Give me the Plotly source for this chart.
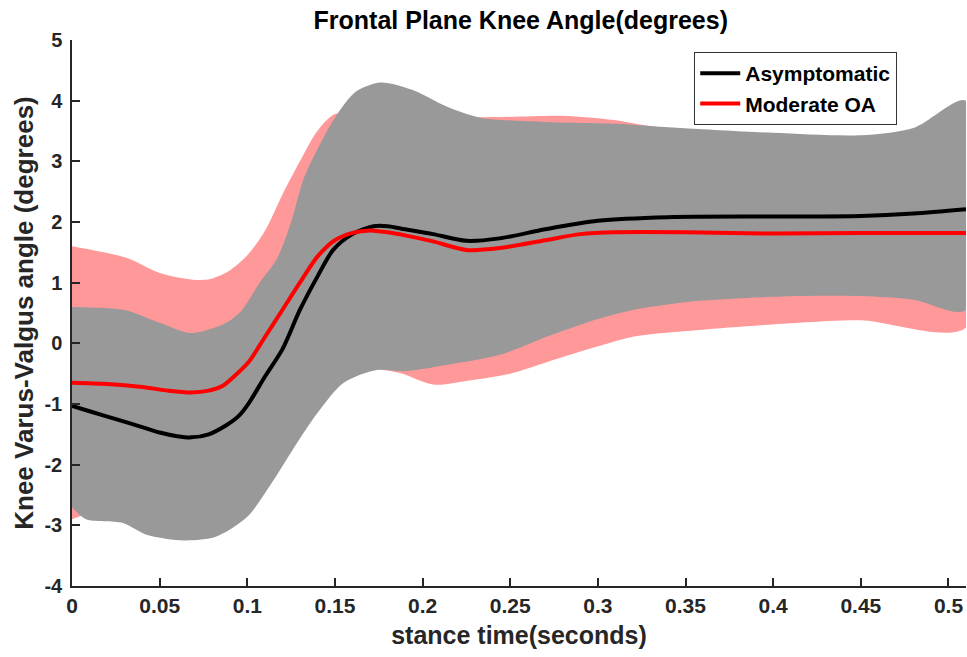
import plotly.graph_objects as go

# Stance-time samples (seconds) and curves, degrees
asym_mean_t = [0, 0.01, 0.025, 0.04, 0.05, 0.06, 0.068, 0.078, 0.088, 0.095, 0.101, 0.11,
               0.12, 0.13, 0.14, 0.149, 0.16, 0.172, 0.18, 0.19, 0.206, 0.225, 0.244,
               0.27, 0.3, 0.34, 0.4, 0.45, 0.48, 0.51]
asym_mean = [-1.03, -1.12, -1.25, -1.38, -1.47, -1.53, -1.55, -1.5, -1.35, -1.2, -0.98, -0.55,
             -0.1, 0.55, 1.1, 1.54, 1.8, 1.93, 1.93, 1.88, 1.8, 1.69, 1.73,
             1.88, 2.02, 2.08, 2.09, 2.1, 2.14, 2.21]

oa_mean_t = [0, 0.02, 0.04, 0.055, 0.068, 0.078, 0.086, 0.096, 0.101, 0.11, 0.12, 0.13,
             0.14, 0.15, 0.16, 0.17, 0.18, 0.19, 0.206, 0.225, 0.244, 0.27, 0.29, 0.31,
             0.35, 0.4, 0.45, 0.51]
oa_mean = [-0.65, -0.67, -0.72, -0.78, -0.81, -0.78, -0.7, -0.45, -0.3, 0.1, 0.55, 1.0,
           1.43, 1.7, 1.82, 1.86, 1.83, 1.78, 1.68, 1.54, 1.57, 1.7, 1.8, 1.83,
           1.83, 1.81, 1.82, 1.82]

# Asymptomatic band (upper / lower)
asym_up_t = [0, 0.03, 0.05, 0.068, 0.088, 0.097, 0.107, 0.117, 0.125, 0.132, 0.14, 0.15,
             0.162, 0.176, 0.194, 0.214, 0.233, 0.27, 0.31, 0.347, 0.4, 0.45, 0.48, 0.51]
asym_up = [0.6, 0.55, 0.34, 0.17, 0.34, 0.55, 1.0, 1.4, 2.0, 2.7, 3.2, 3.72,
           4.15, 4.3, 4.18, 3.9, 3.72, 3.65, 3.62, 3.55, 3.47, 3.43, 3.55, 4.0]
asym_lo_t = [0, 0.008, 0.029, 0.043, 0.064, 0.082, 0.1, 0.114, 0.126, 0.14, 0.155, 0.174,
             0.19, 0.215, 0.244, 0.272, 0.3, 0.32, 0.358, 0.415, 0.45, 0.48, 0.51]
asym_lo = [-2.7, -2.9, -2.96, -3.16, -3.25, -3.19, -2.86, -2.3, -1.75, -1.15, -0.65, -0.44,
           -0.46, -0.35, -0.19, 0.12, 0.4, 0.55, 0.7, 0.78, 0.78, 0.72, 0.55]

# Moderate OA band (upper / lower)
oa_up_t = [0, 0.031, 0.05, 0.069, 0.079, 0.09, 0.1, 0.11, 0.12, 0.13, 0.14, 0.15, 0.17,
           0.2, 0.244, 0.28, 0.309, 0.33, 0.36, 0.4, 0.45, 0.51]
oa_up = [1.6, 1.41, 1.16, 1.05, 1.06, 1.2, 1.45, 1.85, 2.45, 3.0, 3.5, 3.78, 3.78,
         3.73, 3.73, 3.75, 3.68, 3.58, 3.5, 3.4, 3.35, 3.35]
oa_lo_t = [0, 0.03, 0.06, 0.09, 0.12, 0.15, 0.17, 0.187, 0.206, 0.225, 0.25, 0.272,
           0.3, 0.32, 0.358, 0.415, 0.45, 0.51]
oa_lo = [-2.9, -2.6, -2.4, -2.0, -1.2, -0.5, -0.42, -0.49, -0.68, -0.62, -0.5, -0.3,
         -0.05, 0.11, 0.22, 0.34, 0.38, 0.26]

x_ticks = [0, 0.05, 0.1, 0.15, 0.2, 0.25, 0.3, 0.35, 0.4, 0.45, 0.5]
x_tick_text = ["0", "0.05", "0.1", "0.15", "0.2", "0.25", "0.3", "0.35", "0.4", "0.45", "0.5"]
y_ticks = [-4, -3, -2, -1, 0, 1, 2, 3, 4, 5]

PINK = "#FF9999"
GRAY = "#999999"
AXIS = "#262626"
FONT = "Liberation Sans, Arial, sans-serif"


def band(t_up, up, t_lo, lo, color):
    return go.Scatter(
        x=list(t_up) + list(t_lo)[::-1],
        y=list(up) + list(lo)[::-1],
        fill="toself", fillcolor=color,
        mode="lines", line=dict(width=0, color=color, shape="spline", smoothing=0.8),
        hoverinfo="skip", showlegend=False,
    )


fig = go.Figure()
fig.add_trace(band(oa_up_t, oa_up, oa_lo_t, oa_lo, PINK))
fig.add_trace(band(asym_up_t, asym_up, asym_lo_t, asym_lo, GRAY))
fig.add_trace(go.Scatter(x=asym_mean_t, y=asym_mean, mode="lines", name="<b>Asymptomatic</b>",
                         line=dict(color="black", width=4, shape="spline", smoothing=0.8)))
fig.add_trace(go.Scatter(x=oa_mean_t, y=oa_mean, mode="lines", name="<b>Moderate OA</b>",
                         line=dict(color="#FF0000", width=4, shape="spline", smoothing=0.8)))

fig.update_layout(
    width=967, height=657,
    margin=dict(l=72, r=1, t=40, b=71),
    paper_bgcolor="white", plot_bgcolor="white",
    title=dict(text="<b>Frontal Plane Knee Angle(degrees)</b>", x=0.502, xanchor="center",
               xref="paper", yref="container", y=1 - 20 / 657, yanchor="middle",
               font=dict(family=FONT, size=25, color="#000")),
    xaxis=dict(range=[0, 0.51], tickvals=x_ticks, ticktext=[f"<b>{t}</b>" for t in x_tick_text],
               ticks="inside", ticklen=8, tickwidth=1.5, tickcolor=AXIS,
               showline=True, linecolor=AXIS, linewidth=1.5, mirror=False,
               showgrid=False, zeroline=False, automargin=False,
               tickfont=dict(family=FONT, size=21, color=AXIS),
               title=dict(text="<b>stance time(seconds)</b>", standoff=11,
                          font=dict(family=FONT, size=25, color=AXIS))),
    yaxis=dict(range=[-4, 5], tickvals=y_ticks, ticktext=[f"<b>{t}</b>" for t in y_ticks],
               ticks="inside", ticklen=8, tickwidth=1.5, tickcolor=AXIS,
               showline=True, linecolor=AXIS, linewidth=1.5, mirror=False,
               showgrid=False, zeroline=False, ticklabelstandoff=4, automargin=False,
               tickfont=dict(family=FONT, size=20, color=AXIS),
               title=dict(text="<b>Knee Varus-Valgus angle (degrees)</b>", standoff=3,
                          font=dict(family=FONT, size=26, color=AXIS))),
    legend=dict(x=0.696, y=0.978, xanchor="left", yanchor="top",
                bgcolor="white", bordercolor="#333", borderwidth=1,
                font=dict(family=FONT, size=21, color="#000"),
                itemwidth=40, tracegroupgap=0),
    showlegend=True,
)

fig.write_html("out.html")
